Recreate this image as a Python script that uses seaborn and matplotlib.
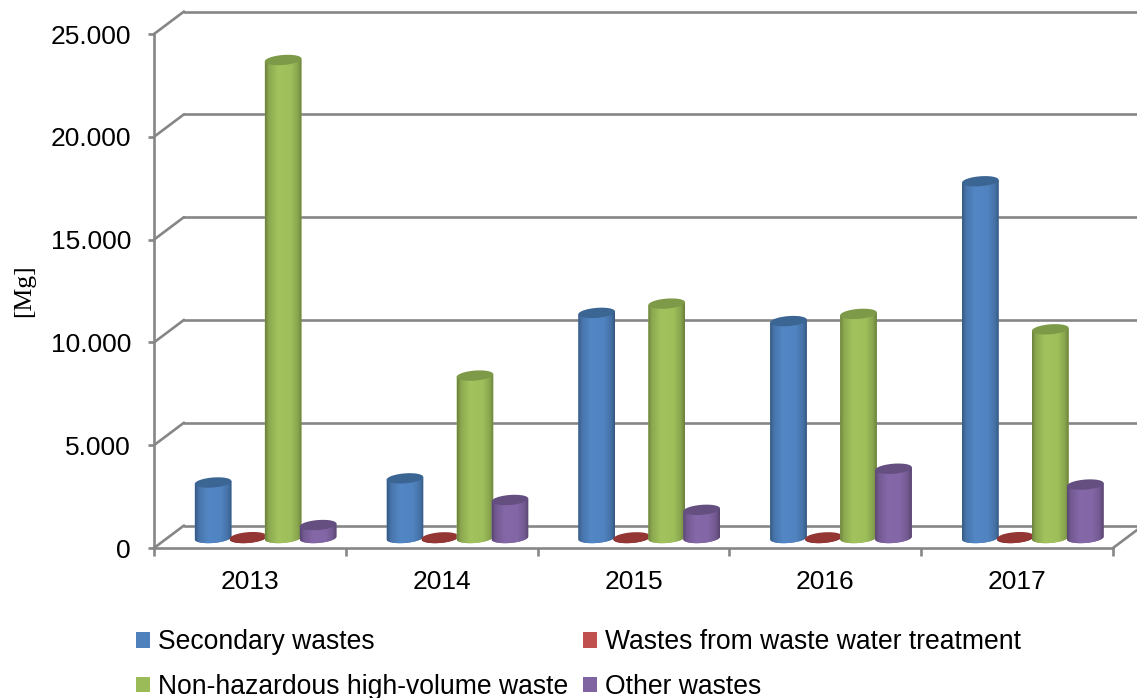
import matplotlib
matplotlib.use("Agg")
import numpy as np
import pandas as pd
import seaborn as sns
from matplotlib import pyplot as plt
from matplotlib.patches import Patch, PathPatch
from matplotlib.path import Path

years = ["2013", "2014", "2015", "2016", "2017"]
secondary = [2700, 2900, 10950, 10550, 17350]
water = [40, 30, 30, 30, 40]
non_hazardous = [23250, 7900, 11400, 10900, 10150]
other = [630, 1850, 1370, 3370, 2600]
series_names = ["Secondary wastes", "Wastes from waste water treatment",
                "Non-hazardous high-volume waste", "Other wastes"]
y_ticks = [0, 5000, 10000, 15000, 20000, 25000]
y_tick_labels = ["0", "5.000", "10.000", "15.000", "20.000", "25.000"]

colors = ["#4f81bd", "#943634", "#9bbb59", "#8064a2"]
top_colors = ["#3b6593", "#943634", "#7d9a48", "#644f80"]
legend_colors = ["#4f81bd", "#c0504d", "#9bbb59", "#8064a2"]
GREY = "#868686"

W, H = 1137, 698
LEFT, RIGHT, TOP, BOTTOM = 154, 1113, 34, 548

sns.set_theme(style="ticks")
plt.rcParams["font.family"] = ["Liberation Sans", "DejaVu Sans"]

df = pd.DataFrame({
    "year": years * 4,
    "series": np.repeat(series_names, len(years)),
    "value": secondary + water + non_hazardous + other,
})

fig = plt.figure(figsize=(W / 100, H / 100), dpi=100)
ax = fig.add_axes([LEFT / W, 1 - BOTTOM / H, (RIGHT - LEFT) / W, (BOTTOM - TOP) / H])
sns.barplot(data=df, x="year", y="value", hue="series", hue_order=series_names,
            palette=colors, width=0.73, gap=0, errorbar=None, legend=False, ax=ax)
ax.set_xlim(-0.5, 4.5)
ax.set_ylim(0, 25000)

# pixel sizes converted to data units
px_x = 5 / (RIGHT - LEFT)
px_y = 25000 / (BOTTOM - TOP)

# walls and floor of the fake 3d box
depth_x, depth_y = 30 * px_x, 22.5 * px_y
for t in y_ticks:
    ax.plot([-0.5, -0.5 + depth_x], [t, t + depth_y], color=GREY, lw=1.9, clip_on=False, zorder=1)
    ax.plot([-0.5 + depth_x, 4.5 + 2 * depth_x], [t + depth_y, t + depth_y], color=GREY, lw=1.9,
            clip_on=False, zorder=1)
ax.plot([4.5, 4.5 + depth_x], [0, depth_y], color=GREY, lw=1.9, clip_on=False, zorder=1)


def cylinder(bar, color, top_color, zorder):
    # swap a flat seaborn bar for a shaded cylinder standing on the floor
    cx = bar.get_x() + bar.get_width() / 2 + 15.7 * px_x
    half = 18.3 * px_x
    semi = 5.0 * px_y
    tilt = 1.4 * px_y
    y0 = 10 * px_y
    y1 = y0 + bar.get_height()
    bar.set_visible(False)

    t = np.linspace(0, 2 * np.pi, 81)
    ex = cx + half * np.cos(t)
    ey = semi * np.sin(t) + tilt * np.cos(t)

    low = np.linspace(np.pi, 2 * np.pi, 41)
    body_x = cx + half * np.cos(low)
    body_y = y0 + semi * np.sin(low) + tilt * np.cos(low)
    verts = np.vstack([np.column_stack([body_x, body_y]),
                       [[cx + half, y1 + tilt], [cx - half, y1 - tilt], [body_x[0], body_y[0]]]])
    body = PathPatch(Path(verts), fc=color, ec="none", zorder=zorder)
    ax.add_patch(body)

    # horizontal shading across the body
    stops = np.array([0, 0.1, 0.35, 0.7, 0.9, 1])
    levels = np.array([0.7, 0.9, 1.04, 1.02, 0.88, 0.68])
    rgb = np.array(matplotlib.colors.to_rgb(color))
    u = np.linspace(0, 1, 64)
    grad = np.clip(np.outer(np.interp(u, stops, levels), rgb), 0, 1)[None, :, :]
    img = ax.imshow(grad, extent=[cx - half, cx + half, y0 - 2 * semi, y1 + 2 * semi], aspect="auto",
                    interpolation="bilinear", zorder=zorder)
    img.set_clip_path(body)

    ax.fill(ex, y1 + ey, color=top_color, lw=0, zorder=zorder + 0.5)


for i, container in enumerate(ax.containers):
    for bar in container:
        cylinder(bar, colors[i], top_colors[i], 3 + i)

ax.set_xlim(-0.5, 4.5)
ax.set_ylim(0, 25000)
ax.set_xlabel("")
ax.set_ylabel("")

sns.despine(ax=ax)
for side in ["left", "bottom"]:
    ax.spines[side].set_color(GREY)
    ax.spines[side].set_linewidth(1.9)

ax.set_yticks(y_ticks, y_tick_labels)
ax.tick_params(axis="y", length=4.5, width=1.9, color=GREY, pad=12, labelsize=19, labelcolor="black")
ax.set_xticks(range(len(years)), years)
ax.set_xticks(np.arange(-0.5, 5), minor=True)
ax.tick_params(axis="x", which="major", length=0, pad=15.7, labelsize=19, labelcolor="black")
ax.tick_params(axis="x", which="minor", length=6, width=1.9, color=GREY)

fig.text(24 / W, 1 - 291 / H, "[Mg]", rotation=90, ha="center", va="center", fontsize=18.5,
         family="Liberation Serif", color="black")

handles = [Patch(fc=legend_colors[i], ec="none") for i in [0, 2, 1, 3]]
labels = [series_names[i] for i in [0, 2, 1, 3]]
fig.legend(handles, labels, ncols=2, loc="lower left", bbox_to_anchor=(136 / W, -2 / H), frameon=False,
           fontsize=19.1, handlelength=0.53, handleheight=0.53, handletextpad=0.3, labelspacing=0.7,
           columnspacing=0.55, borderpad=0, borderaxespad=0, labelcolor="black")

fig.savefig("out.png", dpi=100)
